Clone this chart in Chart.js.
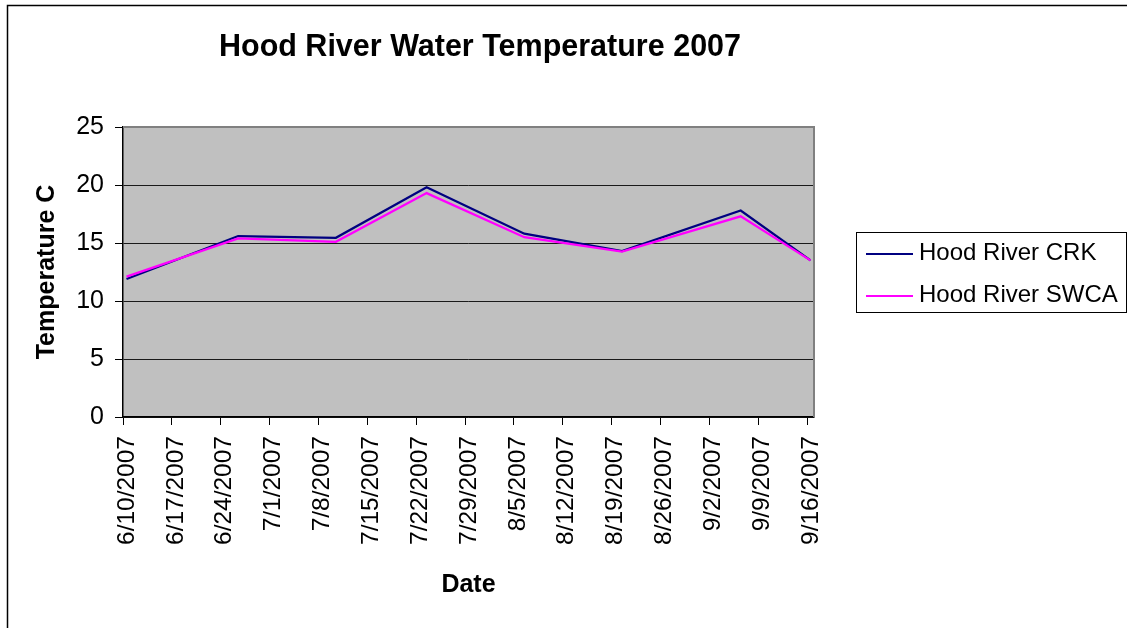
<!DOCTYPE html>
<html>
<head>
<meta charset="utf-8">
<title>Hood River Water Temperature 2007</title>
<script src="https://cdn.jsdelivr.net/npm/chart.js@4.4.1/dist/chart.umd.min.js"></script>
<style>
    body { margin: 0; background: #fff; }
    #grafico_temperatura { display: block; }
</style>
</head>
<body>
<canvas id="grafico_temperatura" width="1128" height="628"></canvas>
<script>
// Dados
let datasMedicao = ['2007-06-10', '2007-06-26', '2007-07-10', '2007-07-23', '2007-08-06', '2007-08-20', '2007-09-06', '2007-09-16']
let temperaturaCRK = [11.9, 15.6, 15.45, 19.8, 15.8, 14.3, 17.8, 13.5]
let temperaturaSWCA = [12.1, 15.4, 15.1, 19.3, 15.5, 14.25, 17.3, 13.5]
let nomesSeries = ['Hood River CRK', 'Hood River SWCA']
let rotulosEixoX = ['6/10/2007', '6/17/2007', '6/24/2007', '7/1/2007', '7/8/2007', '7/15/2007', '7/22/2007', '7/29/2007',
    '8/5/2007', '8/12/2007', '8/19/2007', '8/26/2007', '9/2/2007', '9/9/2007', '9/16/2007']
let titulo = 'Hood River Water Temperature 2007'
let tituloX = 'Date'
let tituloY = 'Temperature C'

let fonte = "'Liberation Sans', Arial, sans-serif"
let dataInicial = Date.UTC(2007, 5, 10)

// dias contados a partir de 6/10/2007
function diasDesde(ano, mes, dia) {
    return (Date.UTC(ano, mes - 1, dia) - dataInicial) / 86400000
}

function diaDoRotulo(rotulo) {
    let partes = rotulo.split('/')
    return diasDesde(Number(partes[2]), Number(partes[0]), Number(partes[1]))
}

function diaDaMedicao(texto) {
    let partes = texto.split('-')
    // medição no meio do dia
    return diasDesde(Number(partes[0]), Number(partes[1]), Number(partes[2])) + 0.5
}

function montarPontos(valores) {
    let pontos = []
    for (var i = 0; i < valores.length; i++) {
        pontos.push({ x: diaDaMedicao(datasMedicao[i]), y: valores[i] })
    }
    return pontos
}

// Fundo, moldura, título e legenda no estilo do Excel
let estiloExcel = {
    id: 'estiloExcel',
    beforeDraw(chart) {
        let ctx = chart.ctx
        let area = chart.chartArea
        ctx.save()
        ctx.fillStyle = '#ffffff'
        ctx.fillRect(0, 0, chart.width, chart.height)

        ctx.strokeStyle = '#000000'
        ctx.lineWidth = 1.5
        ctx.beginPath()
        ctx.moveTo(7.5, chart.height)
        ctx.lineTo(7.5, 5.5)
        ctx.lineTo(1127, 5.5)
        ctx.stroke()

        ctx.fillStyle = '#C0C0C0'
        ctx.fillRect(area.left, area.top, area.right - area.left, area.bottom - area.top)

        ctx.fillStyle = '#000000'
        ctx.font = 'bold 30.5px ' + fonte
        ctx.textAlign = 'center'
        ctx.textBaseline = 'middle'
        ctx.fillText(titulo, 480, 48)
        ctx.restore()
    },
    beforeDatasetsDraw(chart) {
        let ctx = chart.ctx
        let area = chart.chartArea
        ctx.save()
        ctx.strokeStyle = '#808080'
        ctx.lineWidth = 2
        ctx.beginPath()
        ctx.moveTo(area.left, area.top)
        ctx.lineTo(area.right, area.top)
        ctx.lineTo(area.right, area.bottom)
        ctx.stroke()
        ctx.restore()
    },
    afterDraw(chart) {
        let ctx = chart.ctx
        ctx.save()
        ctx.strokeStyle = '#000000'
        ctx.lineWidth = 1
        ctx.strokeRect(856.5, 232.5, 270, 80)

        ctx.font = '24px ' + fonte
        ctx.textAlign = 'left'
        ctx.textBaseline = 'middle'
        let linhas = [254, 296]
        chart.data.datasets.forEach(function (serie, i) {
            ctx.strokeStyle = serie.borderColor
            ctx.lineWidth = 2
            ctx.beginPath()
            ctx.moveTo(866, linhas[i])
            ctx.lineTo(913, linhas[i])
            ctx.stroke()
            ctx.fillStyle = '#000000'
            ctx.fillText(serie.label, 919, linhas[i] - 1)
        })
        ctx.restore()
    }
}

let graficoTemperatura = document.getElementById('grafico_temperatura')

const chart = new Chart(graficoTemperatura, {
    type: 'line',
    data: {
        datasets: [
            {
                label: nomesSeries[0],
                data: montarPontos(temperaturaCRK),
                borderColor: '#000080',
                borderWidth: 2.25,
                pointRadius: 0,
                tension: 0,
                order: 1,
            },
            {
                label: nomesSeries[1],
                data: montarPontos(temperaturaSWCA),
                borderColor: '#FF00FF',
                borderWidth: 2.25,
                pointRadius: 0,
                tension: 0,
                order: 0,
            },
        ],
    },
    options: {
        responsive: false,
        animation: false,
        devicePixelRatio: 1,
        layout: {
            padding: { top: 127, right: 314, bottom: 0, left: 0 },
        },
        scales: {
            x: {
                type: 'linear',
                min: 0,
                max: 99,
                afterBuildTicks: function (eixo) {
                    eixo.ticks = rotulosEixoX.map(function (r) { return { value: diaDoRotulo(r) } })
                },
                afterFit: function (eixo) {
                    eixo.height = 211
                },
                ticks: {
                    autoSkip: false,
                    minRotation: 90,
                    maxRotation: 90,
                    padding: 11,
                    labelOffset: 4,
                    color: '#000000',
                    font: { family: fonte, size: 24.5 },
                    callback: function (valor, indice) {
                        return rotulosEixoX[indice]
                    },
                },
                grid: {
                    drawOnChartArea: false,
                    tickLength: 8,
                    tickColor: '#000000',
                },
                border: { color: '#000000', width: 1.5 },
                title: {
                    display: true,
                    text: tituloX,
                    color: '#000000',
                    font: { family: fonte, size: 25, weight: 'bold' },
                    padding: { top: 0, bottom: 28 },
                },
            },
            y: {
                min: 0,
                max: 25,
                afterFit: function (eixo) {
                    eixo.width = 123
                },
                ticks: {
                    stepSize: 5,
                    padding: 11,
                    color: '#000000',
                    font: { family: fonte, size: 25 },
                },
                grid: {
                    color: function (c) {
                        return c.tick && c.tick.value === 25 ? 'rgba(0,0,0,0)' : '#1a1a1a'
                    },
                    lineWidth: 1,
                    tickLength: 8,
                    tickColor: '#000000',
                },
                border: { color: '#000000', width: 1.5 },
                title: {
                    display: true,
                    text: tituloY,
                    color: '#000000',
                    font: { family: fonte, size: 25, weight: 'bold' },
                    padding: { top: 32, bottom: 0 },
                },
            },
        },
        plugins: {
            legend: { display: false },
            title: { display: false },
            tooltip: { enabled: false },
        },
    },
    plugins: [estiloExcel],
});

chart.update()
</script>
</body>
</html>
